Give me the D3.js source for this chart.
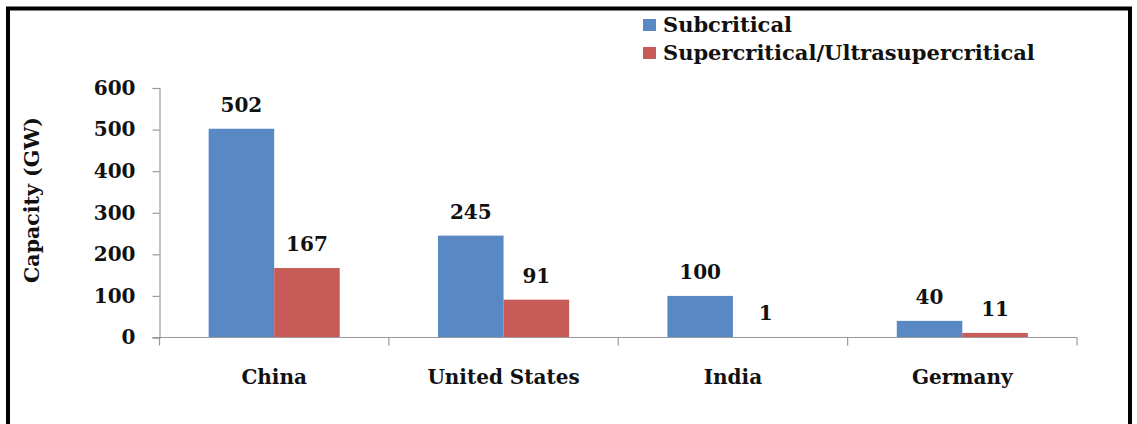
<!DOCTYPE html>
<html>
<head>
<meta charset="utf-8">
<script src="https://cdn.jsdelivr.net/npm/d3@7"></script>
<style>
  html, body { margin: 0; padding: 0; background: #fff; }
  svg { display: block; }
  text { font-family: "DejaVu Serif", "Liberation Serif", serif; font-weight: bold; fill: #111; }
</style>
</head>
<body>
<svg id="chart" width="1137" height="424"></svg>
<script>
// Installed coal capacity by technology, GW
const categories = ["China", "United States", "India", "Germany"];
const seriesNames = ["Subcritical", "Supercritical/Ultrasupercritical"];
const subcritical = [502, 245, 100, 40];
const supercritical = [167, 91, 1, 11];
const yTicks = [0, 100, 200, 300, 400, 500, 600];
const colors = ["#5889C5", "#C75B58"];

const svg = d3.select("#chart");

// outer frame (bottom edge runs past the canvas)
svg.append("rect")
  .attr("x", 8).attr("y", 8.5)
  .attr("width", 1122).attr("height", 440)
  .attr("fill", "none").attr("stroke", "#000").attr("stroke-width", 4);

const plot = { left: 159.5, right: 1077, top: 88, bottom: 337.5 };

const y = d3.scaleLinear().domain([0, 600]).range([plot.bottom, plot.top]);
const x0 = d3.scaleBand().domain(categories).range([plot.left, plot.right]).padding(0);
const bw = x0.bandwidth();
const barW = bw / 3.5;           // gap between groups = 1.5 bar widths
const x1 = d3.scaleBand().domain(seriesNames)
  .range([barW * 0.75, bw - barW * 0.75]).padding(0);

const values = [subcritical, supercritical];

// bars
const groups = svg.append("g");
seriesNames.forEach((s, si) => {
  groups.selectAll(null)
    .data(categories.map((c, i) => ({ c, v: values[si][i] })))
    .enter().append("rect")
    .attr("x", d => x0(d.c) + x1(s))
    .attr("y", d => y(d.v))
    .attr("width", x1.bandwidth())
    .attr("height", d => plot.bottom - y(d.v))
    .attr("fill", colors[si]);
});

// value labels
seriesNames.forEach((s, si) => {
  svg.append("g").selectAll("text")
    .data(categories.map((c, i) => ({ c, v: values[si][i] })))
    .enter().append("text")
    .attr("x", d => x0(d.c) + x1(s) + x1.bandwidth() / 2)
    .attr("y", d => y(d.v) - 17)
    .attr("text-anchor", "middle")
    .attr("font-size", 20)
    .text(d => d3.format("d")(d.v));
});

// y axis
const yAxis = svg.append("g")
  .attr("transform", `translate(${plot.left},0)`)
  .call(d3.axisLeft(y).tickValues(yTicks).tickSize(7).tickPadding(17).tickFormat(d3.format("d")));
yAxis.select(".domain").attr("stroke", "#9a9a9a").attr("stroke-width", 1.2);
yAxis.selectAll(".tick line").attr("stroke", "#9a9a9a").attr("stroke-width", 1.2);
yAxis.selectAll(".tick text")
  .attr("font-size", 20).attr("fill", "#111")
  .attr("font-family", "DejaVu Serif").attr("font-weight", "bold");

// x axis: baseline with ticks at category boundaries
const xg = svg.append("g");
xg.append("line")
  .attr("x1", plot.left - 7).attr("x2", plot.right)
  .attr("y1", plot.bottom).attr("y2", plot.bottom)
  .attr("stroke", "#9a9a9a").attr("stroke-width", 1.2);
const bounds = categories.map(c => x0(c)).concat([plot.right]);
xg.selectAll("line.b").data(bounds).enter().append("line")
  .attr("class", "b")
  .attr("x1", d => d).attr("x2", d => d)
  .attr("y1", plot.bottom).attr("y2", plot.bottom + 8)
  .attr("stroke", "#9a9a9a").attr("stroke-width", 1.2);
xg.selectAll("text").data(categories).enter().append("text")
  .attr("x", d => x0(d) + bw / 2)
  .attr("y", 384)
  .attr("text-anchor", "middle")
  .attr("font-size", 20)
  .text(d => d);

// y axis title
svg.append("text")
  .attr("transform", "translate(39,200) rotate(-90)")
  .attr("text-anchor", "middle")
  .attr("font-size", 20.5)
  .text("Capacity (GW)");

// legend
const legend = svg.append("g");
seriesNames.forEach((s, i) => {
  const ly = 19 + i * 28;
  legend.append("rect")
    .attr("x", 643).attr("y", ly)
    .attr("width", 13).attr("height", 12)
    .attr("fill", colors[i]);
  legend.append("text")
    .attr("x", 663).attr("y", ly + 13)
    .attr("font-size", 21)
    .text(s);
});
</script>
</body>
</html>
